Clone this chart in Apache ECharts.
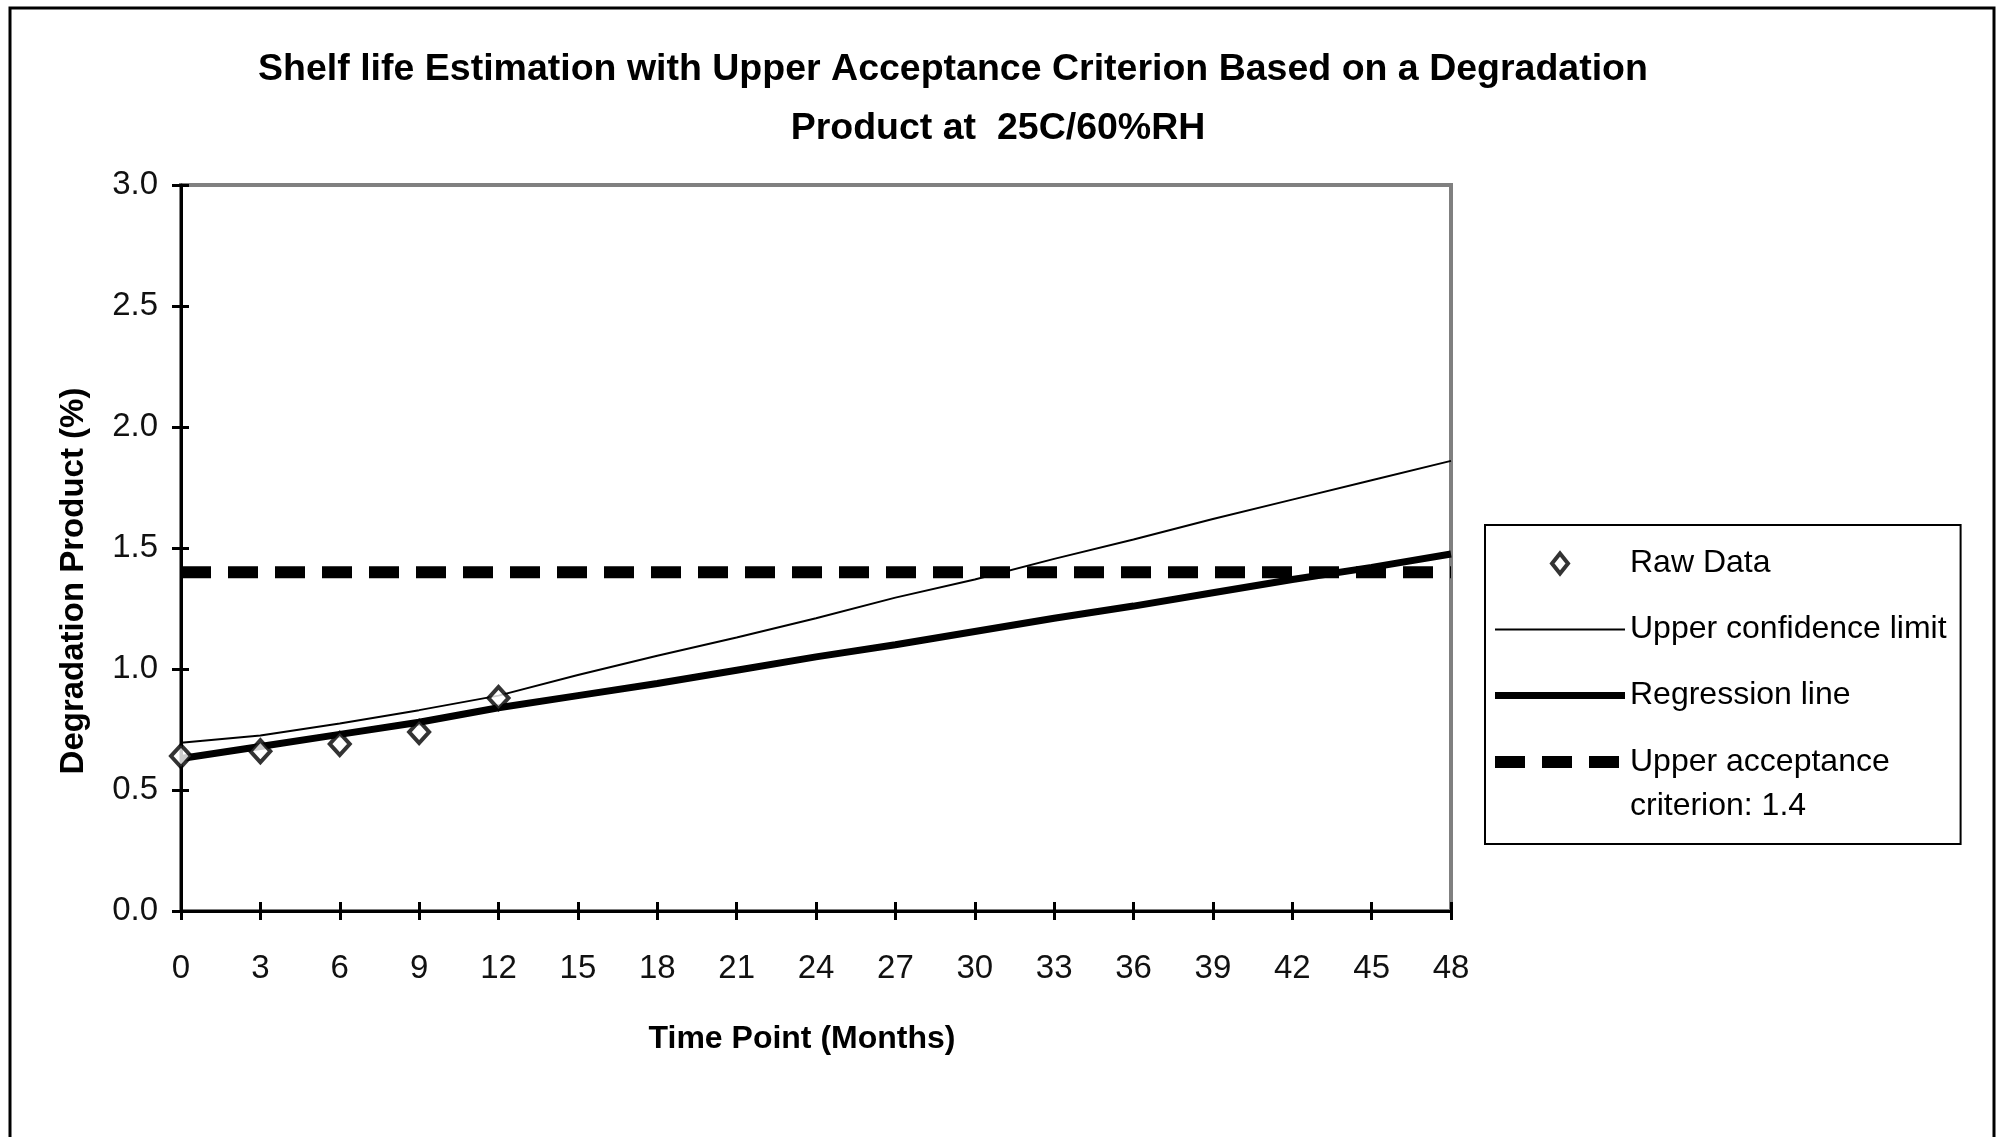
<!DOCTYPE html>
<html>
<head>
<meta charset="utf-8">
<script src="https://cdn.jsdelivr.net/npm/echarts@6/dist/echarts.min.js"></script>
<style>
html,body{margin:0;padding:0;background:#fff;}
#chart{width:2002px;height:1137px;}
</style>
</head>
<body>
<div id="chart"></div>
<script>
// ---- data ----
const titleLine1 = 'Shelf life Estimation with Upper Acceptance Criterion Based on a Degradation';
const titleLine2 = 'Product at  25C/60%RH';
const xAxisTitle = 'Time Point (Months)';
const yAxisTitle = 'Degradation Product (%)';

const months = [0, 3, 6, 9, 12, 15, 18, 21, 24, 27, 30, 33, 36, 39, 42, 45, 48];
const regressionLine = [0.63, 0.68, 0.73, 0.78, 0.84, 0.89, 0.94, 0.995, 1.05, 1.10, 1.155, 1.21, 1.26, 1.315, 1.37, 1.42, 1.475];
const upperConfidence = [0.695, 0.725, 0.775, 0.83, 0.89, 0.975, 1.055, 1.13, 1.21, 1.295, 1.37, 1.455, 1.535, 1.62, 1.70, 1.78, 1.86];
const acceptanceMonths = [0, 48];
const acceptanceValues = [1.4, 1.4];
const rawMonths = [0, 3, 6, 9, 12];
const rawValues = [0.64, 0.66, 0.69, 0.74, 0.88];

const seriesNames = ['Raw Data', 'Upper confidence limit', 'Regression line', 'Upper acceptance\ncriterion: 1.4'];

const FONT = '"Liberation Sans", Arial, sans-serif';
const zip = (xs, ys) => xs.map((x, i) => [x, ys[i]]);

const chart = echarts.init(document.getElementById('chart'), null, {renderer: 'canvas'});

const axisCommonX = {type: 'value', min: 0, max: 48, interval: 3, gridIndex: 0};
const axisCommonY = {type: 'value', min: 0, max: 3, interval: 0.5, gridIndex: 0};

chart.setOption({
  animation: false,
  backgroundColor: '#fff',
  title: [
    {text: titleLine1, left: 953, top: 51, textAlign: 'center', padding: 0,
     textStyle: {fontFamily: FONT, fontSize: 37.5, fontWeight: 'bold', color: '#000'}},
    {text: titleLine2, left: 998, top: 110, textAlign: 'center', padding: 0,
     textStyle: {fontFamily: FONT, fontSize: 37.5, fontWeight: 'bold', color: '#000'}}
  ],
  grid: {left: 181, right: 551, top: 185, bottom: 226, show: true,
         borderColor: '#808080', borderWidth: 4, backgroundColor: '#fff', containLabel: false},
  xAxis: [
    Object.assign({}, axisCommonX, {
      position: 'bottom',
      name: xAxisTitle, nameLocation: 'middle', nameGap: 112,
      nameTextStyle: {fontFamily: FONT, fontSize: 32, fontWeight: 'bold', color: '#000', padding: [0, 28, 0, 0]},
      axisLine: {show: true, onZero: false, lineStyle: {color: '#000', width: 3}},
      axisTick: {show: true, inside: false, length: 9, lineStyle: {color: '#000', width: 3}},
      axisLabel: {show: true, margin: 41, fontFamily: FONT, fontSize: 33, color: '#111'},
      splitLine: {show: false}
    }),
    Object.assign({}, axisCommonX, {
      position: 'bottom',
      axisLine: {show: false, onZero: false},
      axisTick: {show: true, inside: true, length: 9, lineStyle: {color: '#000', width: 3}},
      axisLabel: {show: false},
      splitLine: {show: false}
    })
  ],
  yAxis: [
    Object.assign({}, axisCommonY, {
      position: 'left',
      axisLine: {show: true, onZero: false, lineStyle: {color: '#000', width: 3}},
      axisTick: {show: true, inside: false, length: 9, lineStyle: {color: '#000', width: 3}},
      axisLabel: {show: true, margin: 23, fontFamily: FONT, fontSize: 33, color: '#111',
                  formatter: v => v.toFixed(1)},
      splitLine: {show: false}
    }),
    Object.assign({}, axisCommonY, {
      position: 'left',
      axisLine: {show: false, onZero: false},
      axisTick: {show: true, inside: true, length: 8, lineStyle: {color: '#000', width: 3}},
      axisLabel: {show: false},
      splitLine: {show: false}
    })
  ],
  legend: {
    orient: 'vertical', left: 1485, top: 525,
    padding: [17, 14, 22, 4],
    itemWidth: 130, itemHeight: 20, itemGap: 23,
    borderColor: '#000', borderWidth: 2, backgroundColor: '#fff',
    selectedMode: false,
    textStyle: {fontFamily: FONT, fontSize: 32, lineHeight: 43, color: '#000',
                rich: {a: {fontFamily: FONT, fontSize: 32, lineHeight: 44, color: '#000'},
                       b: {fontFamily: FONT, fontSize: 32, lineHeight: 0, verticalAlign: 'top',
                           padding: [6, 0, 0, 0], color: '#000'}}},
    formatter: function (name) {
      const parts = name.split('\n');
      return parts.length > 1 ? '{a|' + parts[0] + '}\n{b|' + parts[1] + '}' : name;
    },
    data: [
      {name: seriesNames[0], icon: 'path://M0,-10L8,0L0,10L-8,0Z',
       itemStyle: {borderWidth: 4, borderColor: '#000', color: '#fff'}},
      {name: seriesNames[1], itemStyle: {opacity: 0}, lineStyle: {width: 2}},
      {name: seriesNames[2], itemStyle: {opacity: 0}, lineStyle: {width: 7}},
      {name: seriesNames[3], itemStyle: {opacity: 0}, lineStyle: {width: 12}}
    ]
  },
  graphic: [
    {type: 'rect', z: 100, silent: true,
     shape: {x: 10, y: 8, width: 1984, height: 1160},
     style: {fill: 'none', stroke: '#000', lineWidth: 3}},
    {type: 'text', z: 100, x: 74, y: 581, rotation: Math.PI / 2, silent: true,
     style: {text: yAxisTitle, fontFamily: FONT, fontSize: 33, fontWeight: 'bold', fill: '#000',
             align: 'center', verticalAlign: 'middle'}}
  ],
  series: [
    {name: seriesNames[0], type: 'scatter', xAxisIndex: 0, yAxisIndex: 0,
     data: zip(rawMonths, rawValues), symbol: 'diamond', symbolSize: [20, 22], z: 5,
     itemStyle: {color: '#fff', borderColor: '#000', borderWidth: 4}},
    {name: seriesNames[1], type: 'line', xAxisIndex: 0, yAxisIndex: 0,
     data: zip(months, upperConfidence), symbol: 'none', z: 3,
     lineStyle: {color: '#000', width: 2}, itemStyle: {color: '#000'}},
    {name: seriesNames[2], type: 'line', xAxisIndex: 0, yAxisIndex: 0,
     data: zip(months, regressionLine), symbol: 'none', z: 4,
     lineStyle: {color: '#000', width: 7}, itemStyle: {color: '#000'}},
    {name: seriesNames[3], type: 'line', xAxisIndex: 0, yAxisIndex: 0,
     data: zip(acceptanceMonths, acceptanceValues), symbol: 'none', z: 2,
     lineStyle: {color: '#000', width: 12, type: [30, 17], cap: 'butt'}, itemStyle: {color: '#000'}}
  ]
});
</script>
</body>
</html>
